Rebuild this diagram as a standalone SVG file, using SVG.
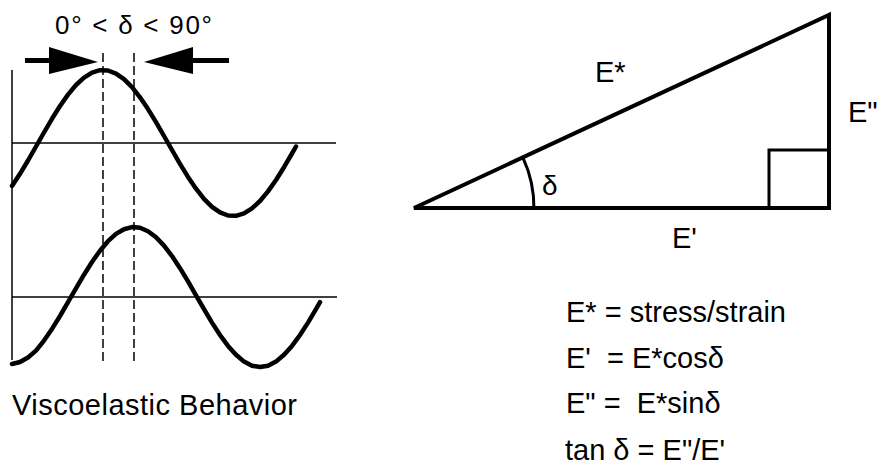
<svg xmlns="http://www.w3.org/2000/svg" width="878" height="466" viewBox="0 0 878 466">
<style>
.t{font-family:"Liberation Sans",Arial,sans-serif;fill:#000;white-space:pre}
.thin{stroke:#000;stroke-width:1.5;fill:none}
.dash{stroke:#000;stroke-width:1.5;fill:none;stroke-dasharray:9 4}
.wave{stroke:#000;stroke-width:4.5;fill:none;stroke-linejoin:round;stroke-linecap:round}
.tri{stroke:#000;stroke-width:4;fill:none;stroke-linejoin:miter}
</style>
<rect width="878" height="466" fill="#fff"/>
<g id="waves">
<line class="thin" x1="12" y1="70" x2="12" y2="360"/>
<line class="thin" x1="12" y1="143" x2="336" y2="143"/>
<line class="thin" x1="12" y1="297" x2="337" y2="297"/>
<line class="dash" x1="103" y1="53" x2="103" y2="362"/>
<line class="dash" x1="134" y1="53" x2="134" y2="362"/>
<polyline id="strain" class="wave" points="12,185.9 20,173.8 28,160.5 36,146.5 44,132.5 52,118.8 60,106 68,94.6 76,85 84,77.6 92,72.6 100,70.2 108,70.5 116,73.6 124,79.2 132,87.2 140,97.3 148,109.1 156,122.1 164,136 172,150 180,163.9 188,176.9 196,188.7 204,198.8 212,206.8 220,212.4 228,215.5 236,215.8 244,213.4 252,208.4 260,201 268,191.4 276,180 284,167.2 292,153.5 296,146.5"/>
<polyline id="stress" class="wave" points="12,364 20,362 28,357.5 36,350.6 44,340.6 52,328.9 60,316 68,302.2 76,288.3 84,274.7 92,262 100,250.7 108,241.2 116,233.9 124,229.2 132,227.1 140,227.8 148,231.2 156,237.2 164,245.6 172,256.1 180,268.2 188,281.4 196,295.3 204,309.2 212,322.6 220,335 228,345.9 236,354.8 244,361.6 252,365.7 260,367 268,365.7 276,361.6 284,354.8 292,345.9 300,335 308,322.6 316,309.2 320,302.2"/>
</g>
<g id="phase-arrows">
<line x1="25" y1="60.5" x2="52" y2="60.5" stroke="#000" stroke-width="5"/>
<polygon points="49,47 98,62 49,74" fill="#000"/>
<line x1="190" y1="60.5" x2="229" y2="60.5" stroke="#000" stroke-width="5"/>
<polygon points="193,47 144,62 193,74" fill="#000"/>
<text class="t" x="55" y="34" font-size="26" textLength="157">0° &lt; δ &lt; 90°</text>
</g>
<g id="label-viscoelastic">
<text class="t" x="12" y="415" font-size="29" textLength="285">Viscoelastic Behavior</text>
</g>
<g id="triangle">
<polygon class="tri" points="414,208 829,15 829,208"/>
<polyline class="thin" style="stroke-width:3" points="769,208 769,150 829,150"/>
<path d="M522.8,157.4 A120,120 0 0 1 534,210" stroke="#000" stroke-width="3" fill="none"/>
<text class="t" x="542" y="195" font-size="28">δ</text>
<text class="t" x="595" y="82" font-size="29">E*</text>
<text class="t" x="848" y="122" font-size="29">E"</text>
<text class="t" x="672" y="248" font-size="29">E'</text>
</g>
<g id="formulas">
<text class="t" x="566" y="322" font-size="29">E* = stress/strain</text>
<text class="t" x="566" y="368" font-size="29">E'  = E*cosδ</text>
<text class="t" x="566" y="413" font-size="29">E" =  E*sinδ</text>
<text class="t" x="565" y="460" font-size="29">tan δ = E"/E'</text>
</g>
</svg>
